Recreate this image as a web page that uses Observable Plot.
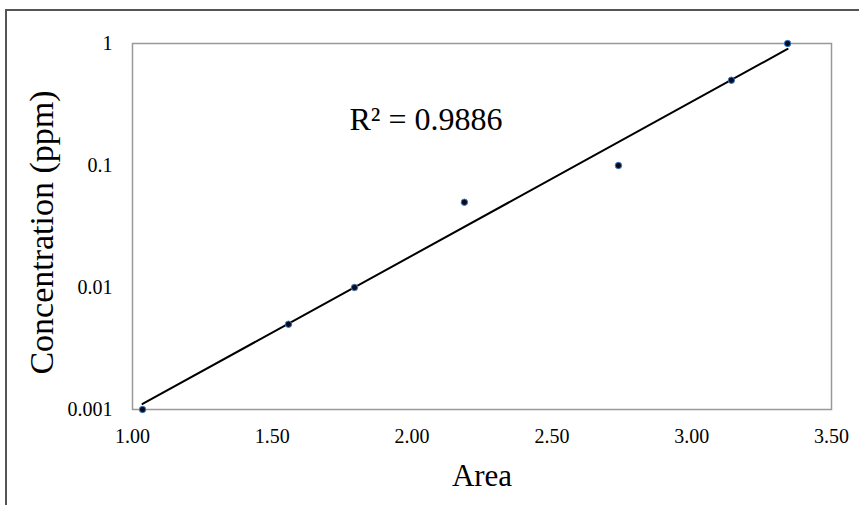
<!DOCTYPE html>
<html>
<head>
<meta charset="utf-8">
<script src="https://cdn.jsdelivr.net/npm/d3@7"></script>
<script src="https://cdn.jsdelivr.net/npm/@observablehq/plot@0.6"></script>
<style>
  html, body { margin: 0; padding: 0; background: white; }
  #wrap { position: relative; width: 859px; height: 505px; overflow: hidden; }
  #border { position: absolute; left: 5px; top: 9px; width: 900px; height: 600px;
            border-top: 2px solid #555; border-left: 2px solid #555; pointer-events: none; }
  #chart svg [aria-label$="tick label"] { font-size: 20px !important; }
</style>
</head>
<body>
<div id="wrap"><div id="chart"></div><div id="border"></div></div>
<script>
// Data
const area = [1.036, 1.558, 1.794, 2.187, 2.738, 3.142, 3.343];
const concentration = [0.001, 0.005, 0.01, 0.05, 0.1, 0.5, 1];
const xTicks = [1.0, 1.5, 2.0, 2.5, 3.0, 3.5];
const yTicks = [0.001, 0.01, 0.1, 1];
const yTickLabels = ["0.001", "0.01", "0.1", "1"];
const r2Label = "R\u00B2 = 0.9886";
const xLabel = "Area";
const yLabel = "Concentration (ppm)";

const points = area.map((a, i) => ({area: a, conc: concentration[i]}));

// Exponential trendline: least squares of log10(conc) on area
const lx = area, ly = concentration.map(c => Math.log10(c));
const mx = d3.mean(lx), my = d3.mean(ly);
const slope = d3.sum(lx, (x, i) => (x - mx) * (ly[i] - my)) / d3.sum(lx, x => (x - mx) ** 2);
const intercept = my - slope * mx;
const xr = d3.extent(area);
const trend = xr.map(x => ({area: x, conc: Math.pow(10, intercept + slope * x)}));

const font = "'Liberation Serif', 'Times New Roman', serif";

const chart = Plot.plot({
  width: 859,
  height: 505,
  marginLeft: 132,
  marginRight: 28,
  marginTop: 43,
  marginBottom: 96,
  style: {fontFamily: font, fontSize: "20px", background: "white", color: "black"},
  x: {domain: [1, 3.5]},
  y: {type: "log", domain: [0.001, 1]},
  marks: [
    Plot.frame({stroke: "#999", strokeWidth: 1.5}),
    Plot.axisX({ticks: xTicks, tickFormat: d3.format(".2f"), tickSize: 0, tickPadding: 19, label: null}),
    Plot.axisY({ticks: yTicks, tickFormat: d => yTickLabels[yTicks.indexOf(d)], tickSize: 0, tickPadding: 20, label: null}),
    Plot.line(trend, {x: "area", y: "conc", stroke: "black", strokeWidth: 2}),
    Plot.dot(points, {x: "area", y: "conc", r: 3.2, fill: "#0b0b1e", stroke: "#3a7fd0", strokeWidth: 1}),
    Plot.text([r2Label], {frameAnchor: "top", dx: -56, dy: 64, fontSize: 32, fill: "black"}),
    Plot.text([xLabel], {frameAnchor: "bottom", dy: 76, fontSize: 31, fill: "black"}),
    Plot.text([yLabel], {frameAnchor: "left", textAnchor: "middle", rotate: -90, dx: -90, dy: 6, fontSize: 34, fill: "black"})
  ]
});
document.getElementById("chart").appendChild(chart);
</script>
</body>
</html>
